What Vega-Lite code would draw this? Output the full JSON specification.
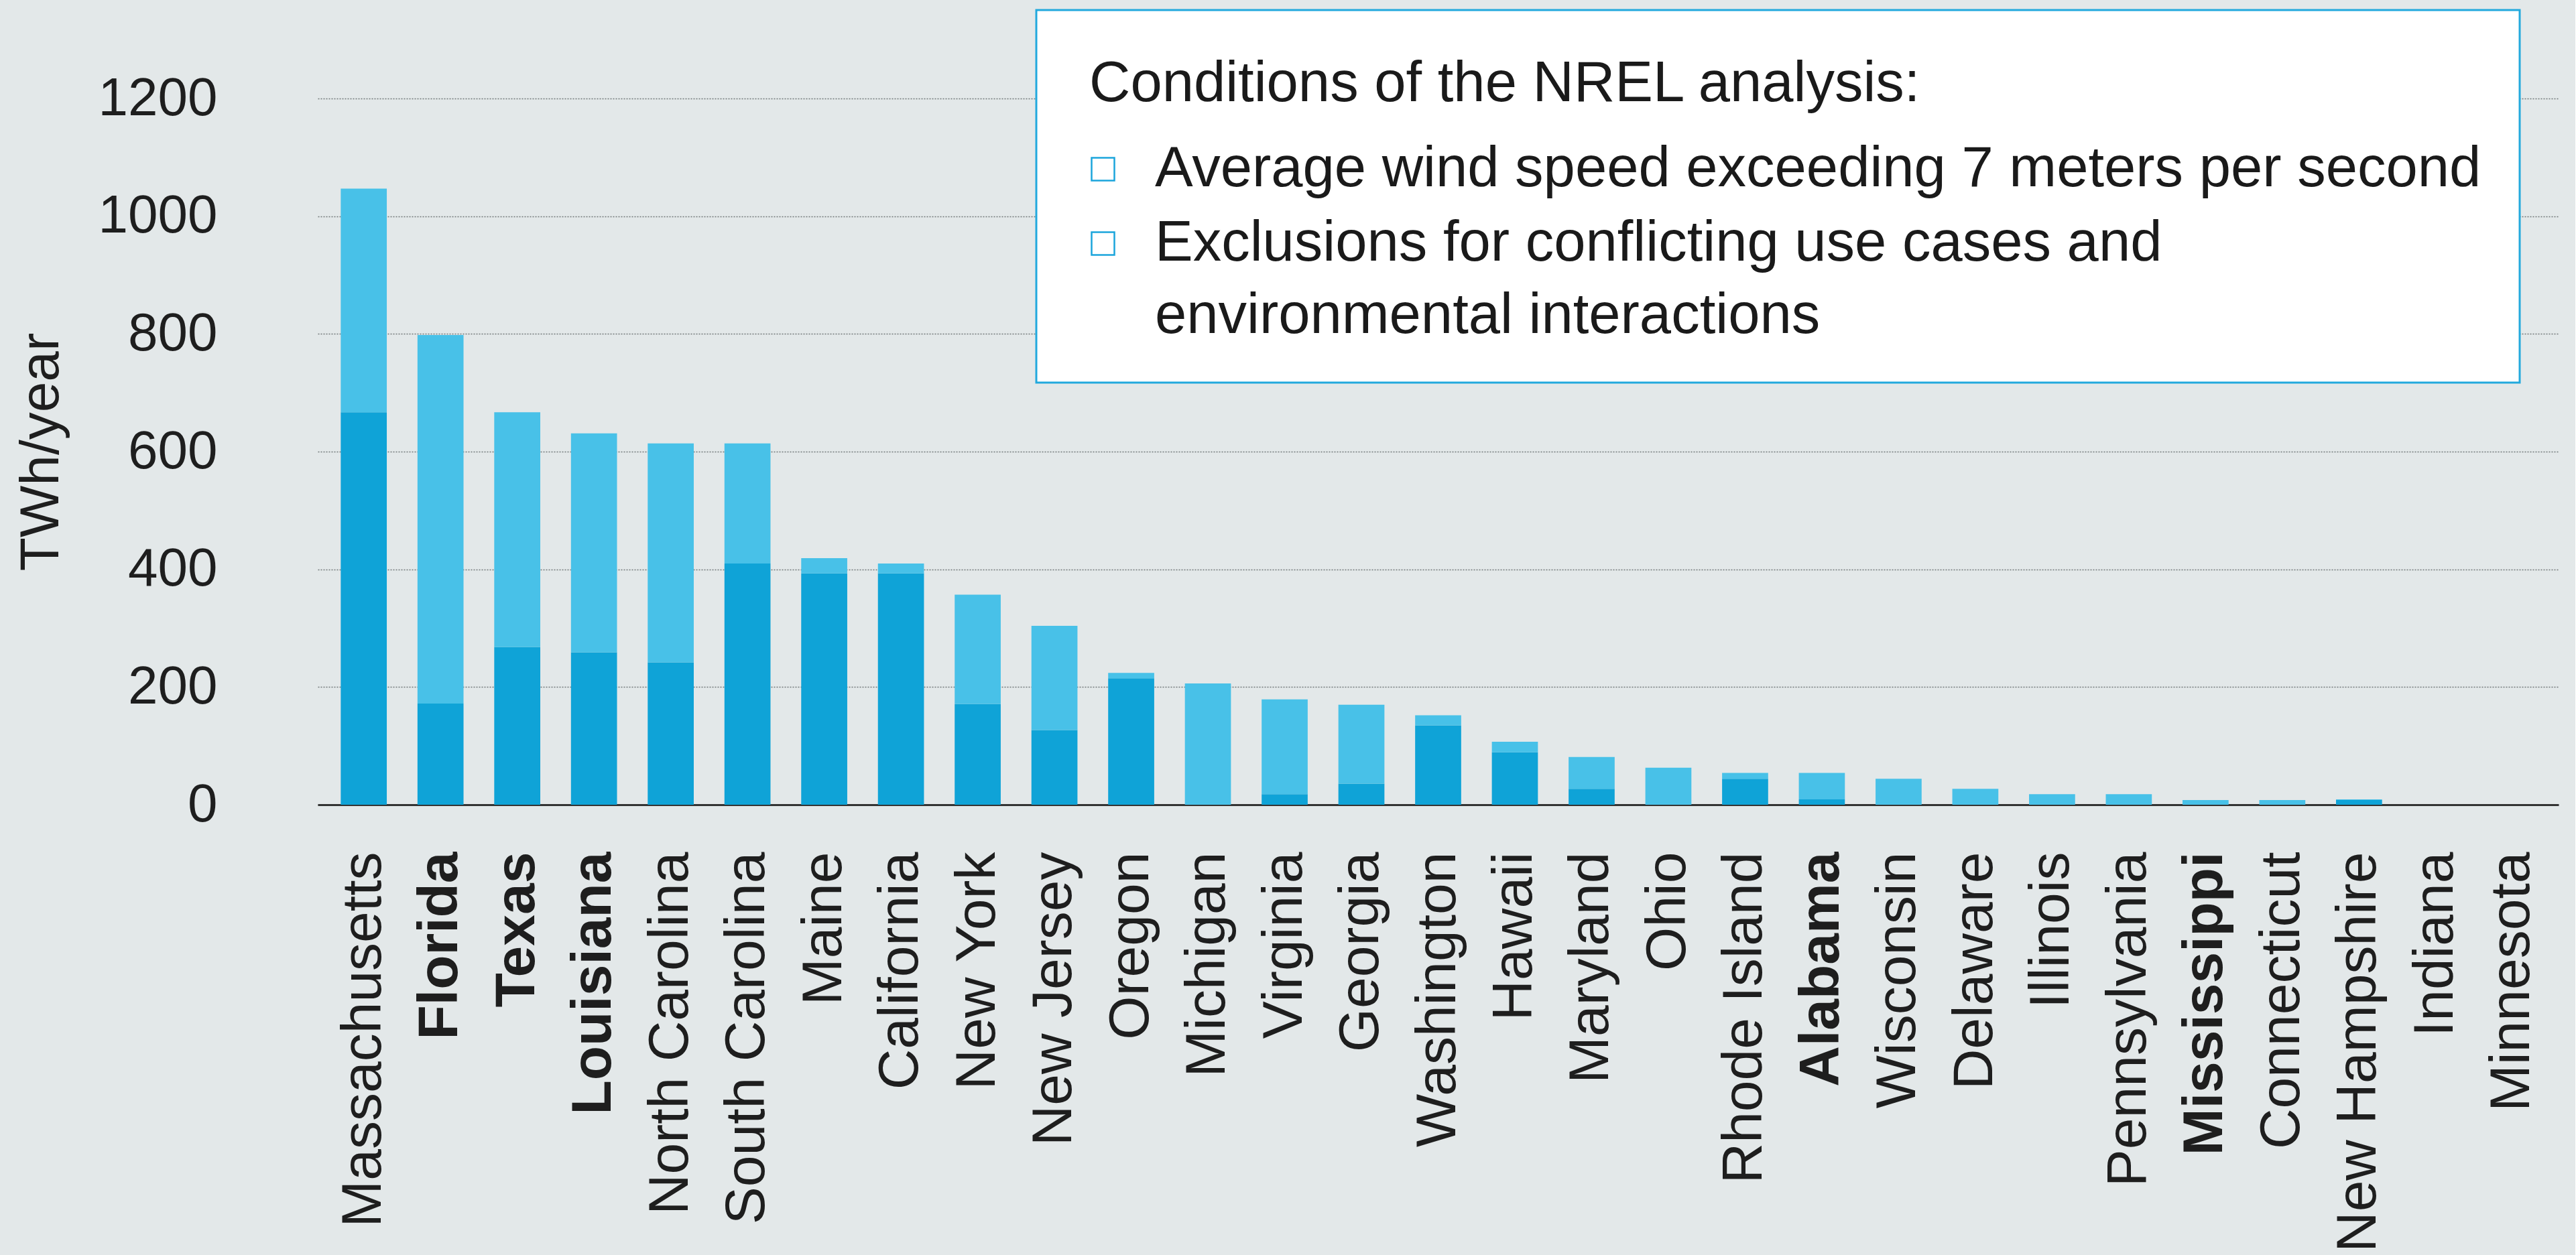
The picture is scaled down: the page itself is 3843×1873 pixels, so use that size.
{
  "$schema": "https://vega.github.io/schema/vega-lite/v6.json",
  "width": 3343,
  "height": 1054,
  "background": "#E3E8E9",
  "padding": {"left": 20, "top": 13, "right": 25, "bottom": 5},
  "data": {
    "values": [
      {"state": "Massachusetts", "series": "Average wind speed exceeding 7 meters per second", "value": 667},
      {"state": "Massachusetts", "series": "Exclusions for conflicting use cases and environmental interactions", "value": 380},
      {"state": "Florida", "series": "Average wind speed exceeding 7 meters per second", "value": 172},
      {"state": "Florida", "series": "Exclusions for conflicting use cases and environmental interactions", "value": 626},
      {"state": "Texas", "series": "Average wind speed exceeding 7 meters per second", "value": 268},
      {"state": "Texas", "series": "Exclusions for conflicting use cases and environmental interactions", "value": 399},
      {"state": "Louisiana", "series": "Average wind speed exceeding 7 meters per second", "value": 259},
      {"state": "Louisiana", "series": "Exclusions for conflicting use cases and environmental interactions", "value": 372},
      {"state": "North Carolina", "series": "Average wind speed exceeding 7 meters per second", "value": 242},
      {"state": "North Carolina", "series": "Exclusions for conflicting use cases and environmental interactions", "value": 372},
      {"state": "South Carolina", "series": "Average wind speed exceeding 7 meters per second", "value": 410},
      {"state": "South Carolina", "series": "Exclusions for conflicting use cases and environmental interactions", "value": 204},
      {"state": "Maine", "series": "Average wind speed exceeding 7 meters per second", "value": 393},
      {"state": "Maine", "series": "Exclusions for conflicting use cases and environmental interactions", "value": 26},
      {"state": "California", "series": "Average wind speed exceeding 7 meters per second", "value": 393},
      {"state": "California", "series": "Exclusions for conflicting use cases and environmental interactions", "value": 17},
      {"state": "New York", "series": "Average wind speed exceeding 7 meters per second", "value": 171},
      {"state": "New York", "series": "Exclusions for conflicting use cases and environmental interactions", "value": 186},
      {"state": "New Jersey", "series": "Average wind speed exceeding 7 meters per second", "value": 127},
      {"state": "New Jersey", "series": "Exclusions for conflicting use cases and environmental interactions", "value": 177},
      {"state": "Oregon", "series": "Average wind speed exceeding 7 meters per second", "value": 215},
      {"state": "Oregon", "series": "Exclusions for conflicting use cases and environmental interactions", "value": 9},
      {"state": "Michigan", "series": "Average wind speed exceeding 7 meters per second", "value": 0},
      {"state": "Michigan", "series": "Exclusions for conflicting use cases and environmental interactions", "value": 206},
      {"state": "Virginia", "series": "Average wind speed exceeding 7 meters per second", "value": 18},
      {"state": "Virginia", "series": "Exclusions for conflicting use cases and environmental interactions", "value": 161},
      {"state": "Georgia", "series": "Average wind speed exceeding 7 meters per second", "value": 36},
      {"state": "Georgia", "series": "Exclusions for conflicting use cases and environmental interactions", "value": 134},
      {"state": "Washington", "series": "Average wind speed exceeding 7 meters per second", "value": 135},
      {"state": "Washington", "series": "Exclusions for conflicting use cases and environmental interactions", "value": 17},
      {"state": "Hawaii", "series": "Average wind speed exceeding 7 meters per second", "value": 89},
      {"state": "Hawaii", "series": "Exclusions for conflicting use cases and environmental interactions", "value": 18},
      {"state": "Maryland", "series": "Average wind speed exceeding 7 meters per second", "value": 27},
      {"state": "Maryland", "series": "Exclusions for conflicting use cases and environmental interactions", "value": 54},
      {"state": "Ohio", "series": "Average wind speed exceeding 7 meters per second", "value": 0},
      {"state": "Ohio", "series": "Exclusions for conflicting use cases and environmental interactions", "value": 63},
      {"state": "Rhode Island", "series": "Average wind speed exceeding 7 meters per second", "value": 44},
      {"state": "Rhode Island", "series": "Exclusions for conflicting use cases and environmental interactions", "value": 10},
      {"state": "Alabama", "series": "Average wind speed exceeding 7 meters per second", "value": 9},
      {"state": "Alabama", "series": "Exclusions for conflicting use cases and environmental interactions", "value": 45},
      {"state": "Wisconsin", "series": "Average wind speed exceeding 7 meters per second", "value": 0},
      {"state": "Wisconsin", "series": "Exclusions for conflicting use cases and environmental interactions", "value": 44},
      {"state": "Delaware", "series": "Average wind speed exceeding 7 meters per second", "value": 0},
      {"state": "Delaware", "series": "Exclusions for conflicting use cases and environmental interactions", "value": 27},
      {"state": "Illinois", "series": "Average wind speed exceeding 7 meters per second", "value": 0},
      {"state": "Illinois", "series": "Exclusions for conflicting use cases and environmental interactions", "value": 18},
      {"state": "Pennsylvania", "series": "Average wind speed exceeding 7 meters per second", "value": 0},
      {"state": "Pennsylvania", "series": "Exclusions for conflicting use cases and environmental interactions", "value": 18},
      {"state": "Mississippi", "series": "Average wind speed exceeding 7 meters per second", "value": 0},
      {"state": "Mississippi", "series": "Exclusions for conflicting use cases and environmental interactions", "value": 8},
      {"state": "Connecticut", "series": "Average wind speed exceeding 7 meters per second", "value": 0},
      {"state": "Connecticut", "series": "Exclusions for conflicting use cases and environmental interactions", "value": 8},
      {"state": "New Hampshire", "series": "Average wind speed exceeding 7 meters per second", "value": 8},
      {"state": "New Hampshire", "series": "Exclusions for conflicting use cases and environmental interactions", "value": 1},
      {"state": "Indiana", "series": "Average wind speed exceeding 7 meters per second", "value": 0},
      {"state": "Indiana", "series": "Exclusions for conflicting use cases and environmental interactions", "value": 0},
      {"state": "Minnesota", "series": "Average wind speed exceeding 7 meters per second", "value": 0},
      {"state": "Minnesota", "series": "Exclusions for conflicting use cases and environmental interactions", "value": 0}
    ]
  },
  "mark": {"type": "bar"},
  "encoding": {
    "x": {
      "field": "state",
      "type": "nominal",
      "sort": null,
      "scale": {"paddingInner": 0.4, "paddingOuter": 0.3},
      "axis": {
        "title": null,
        "domain": true,
        "domainColor": "#333333",
        "domainWidth": 3,
        "ticks": false,
        "labelAngle": -90,
        "labelFontSize": 84,
        "labelColor": "#1e1e1e",
        "labelPadding": 70,
        "labelLimit": 0,
        "labelFontWeight": {
          "condition": {"test": "indexof(['Florida','Texas','Louisiana','Alabama','Mississippi'], datum.value) >= 0", "value": "bold"},
          "value": "normal"
        }
      }
    },
    "y": {
      "field": "value",
      "type": "quantitative",
      "stack": "zero",
      "scale": {"domain": [0, 1200]},
      "axis": {
        "title": "TWh/year",
        "titleFontSize": 82,
        "titleFontWeight": "normal",
        "titleColor": "#1e1e1e",
        "titlePadding": 171,
        "values": [0, 200, 400, 600, 800, 1000, 1200],
        "format": "d",
        "domain": false,
        "ticks": false,
        "grid": true,
        "gridColor": "#72777a",
        "gridDash": [2, 2],
        "gridWidth": 1.5,
        "labelFontSize": 80,
        "labelColor": "#1e1e1e",
        "labelPadding": 150,
        "labelLimit": 0
      }
    },
    "order": {"field": "series", "sort": "ascending"},
    "color": {
      "field": "series",
      "type": "nominal",
      "scale": {
        "domain": ["Average wind speed exceeding 7 meters per second", "Exclusions for conflicting use cases and environmental interactions"],
        "range": ["#0FA3D7", "#48C1E8"]
      },
      "legend": {
        "orient": "none",
        "legendX": 1072,
        "legendY": -132,
        "title": "Conditions of the NREL analysis:",
        "titleFontSize": 85,
        "titleFontWeight": "normal",
        "titleColor": "#1a1a1a",
        "titlePadding": 53,
        "titleLimit": 0,
        "labelFontSize": 85,
        "labelColor": "#1a1a1a",
        "labelLimit": 0,
        "labelOffset": 35,
        "labelBaseline": "alphabetic",
        "labelExpr": "datum.label == 'Exclusions for conflicting use cases and environmental interactions' ? ['Exclusions for conflicting use cases and', 'environmental interactions'] : datum.label",
        "symbolType": "square",
        "symbolSize": 1156,
        "symbolStrokeColor": "#1BA5DC",
        "symbolStrokeWidth": 2.5,
        "rowPadding": 25,
        "padding": 57,
        "fillColor": "#ffffff",
        "strokeColor": "#22A9DD",
        "encode": {
          "legend": {"update": {"strokeWidth": {"value": 3}}},
          "title": {"update": {"dy": {"value": 12}, "dx": {"value": 22}}},
          "symbols": {"update": {"fillOpacity": {"value": 0}, "stroke": {"value": "#1BA5DC"}, "strokeWidth": {"value": 2.5}}},
          "labels": {"update": {"dy": {"value": 25}, "lineHeight": {"value": 108}}}
        }
      }
    }
  },
  "config": {
    "view": {"stroke": null},
    "font": "Liberation Sans"
  }
}
